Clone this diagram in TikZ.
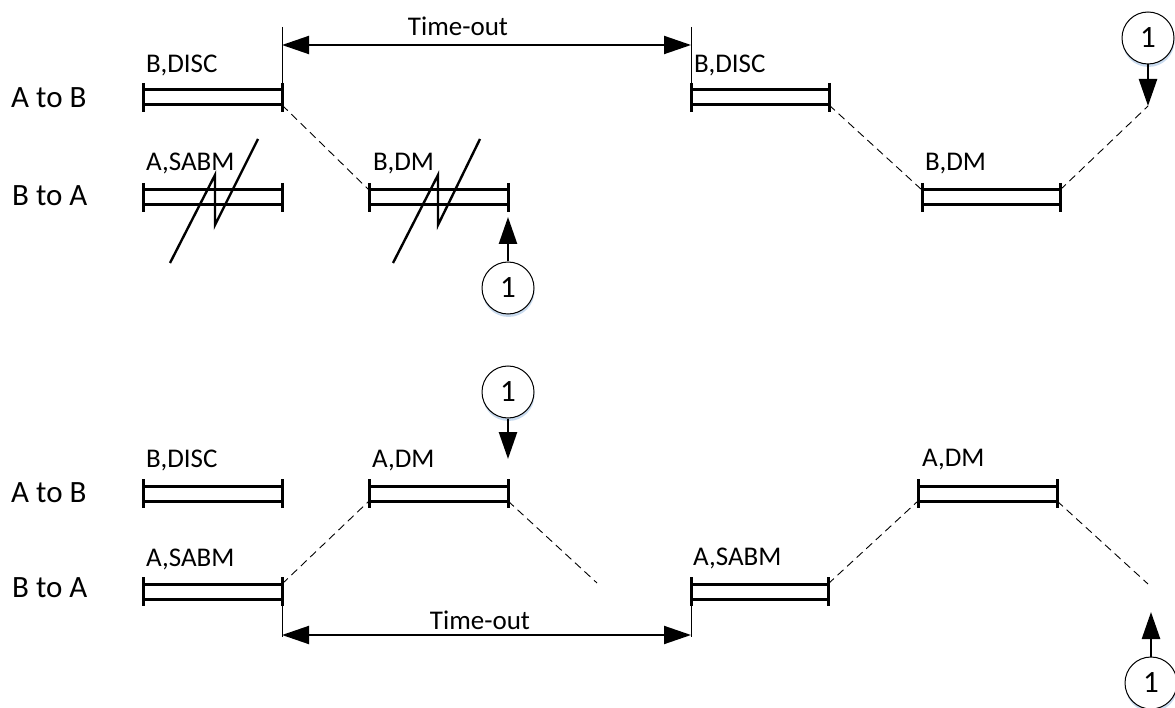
\documentclass[tikz,border=0pt]{standalone}
\usepackage{fontspec}
\setmainfont{Carlito}
\usetikzlibrary{arrows.meta,shadows}
\definecolor{shadowblue}{RGB}{200,218,238}
\tikzset{
  frameline/.style={line width=3pt},
  dashconn/.style={line width=0.9pt,dash pattern=on 8pt off 5pt},
  thinline/.style={line width=1pt},
  bolt/.style={line width=2.4pt,line join=miter},
  lab/.style={font=\fontsize{27}{32}\selectfont,inner sep=0pt,anchor=base west},
  rowlab/.style={font=\fontsize{31}{36}\selectfont,inner sep=0pt,anchor=base west},
  circ/.style={circle,draw,line width=1pt,fill=white,minimum size=52pt,inner sep=0pt,
    font=\fontsize{31}{36}\selectfont,
    drop shadow={shadow xshift=0.5pt,shadow yshift=-3pt,fill=shadowblue,opacity=1}},
  arr/.style={line width=2.5pt,-{Triangle[length=27pt,width=18pt]}},
  tarr/.style={line width=2pt,{Triangle[length=27pt,width=18pt]}-{Triangle[length=27pt,width=18pt]}}
}
\newcommand{\myframe}[4]{%
  \coordinate (#1-tl) at ({#2},{#4});
  \coordinate (#1-tr) at ({#3},{#4});
  \coordinate (#1-bl) at ({#2},{#4+15});
  \coordinate (#1-br) at ({#3},{#4+15});
  \draw[frameline] (#1-tl) -- (#1-tr) (#1-bl) -- (#1-br);
  \draw[frameline] ([yshift=7pt]#1-tl) -- ([yshift=-7pt]#1-bl);
  \draw[frameline] ([yshift=7pt]#1-tr) -- ([yshift=-7pt]#1-br);
}
\begin{document}
\begin{tikzpicture}[x=1pt,y=-1pt]
\useasboundingbox (0,0) rectangle (1175,708);

% ---------------- top section ----------------
\node[rowlab] (r1) at (11,108) {A to B};
\node[rowlab] (r2) at (12,206) {B to A};

\myframe{fa}{143}{282}{90}
\myframe{fb}{691}{829}{90}
\myframe{fc}{143}{282}{190}
\myframe{fd}{369}{508}{190}
\myframe{fe}{922}{1060}{190}

\node[lab] (la) at (146,73) {B,DISC};
\node[lab] (lb) at (694,73) {B,DISC};
\node[lab] (lc) at (146,171) {A,SABM};
\node[lab] (ld) at (373,171) {B,DM};
\node[lab] (le) at (925,171) {B,DM};

% lightning bolts
\draw[bolt] (170,263) -- (215,175) -- (215,225) -- (258,139);
\draw[bolt] (393,263) -- (438,175) -- (438,225) -- (480,139);

% time-out (top)
\coordinate (ta1) at (282,45);
\coordinate (ta2) at (691,45);
\draw[thinline] (282,27) -- ([yshift=7pt]fa-tr);
\draw[thinline] (691,27) -- ([yshift=7pt]fb-tl);
\draw[tarr] (ta1) -- (ta2);
\node[font=\fontsize{27}{32}\selectfont,inner sep=0pt,anchor=base] (tl1) at (458,36) {Time-out};

% dashed connectors
\coordinate (t1) at (1148,106);
\draw[dashconn] (fa-br) -- (fd-tl);
\draw[dashconn] (fb-br) -- (fe-tl);
\draw[dashconn] (fe-tr) -- (t1);

% circles
\node[circ] (c1) at (1148,38) {1};
\draw[arr] (c1.south) -- (t1);
\coordinate (t2) at (508,217);
\node[circ] (c2) at (508,288) {1};
\draw[arr] (c2.north) -- (t2);

% ---------------- bottom section ----------------
\node[rowlab] (r3) at (11,502) {A to B};
\node[rowlab] (r4) at (12,597) {B to A};

\myframe{ga}{143}{282}{486}
\myframe{gb}{369}{508}{486}
\myframe{gc}{918}{1057}{486}
\myframe{gd}{143}{282}{584}
\myframe{ge}{691}{828}{584}

\node[lab] (ma) at (146,467) {B,DISC};
\node[lab] (mb) at (372,467) {A,DM};
\node[lab] (mc) at (922,466) {A,DM};
\node[lab] (md) at (146,566) {A,SABM};
\node[lab] (me) at (693,565) {A,SABM};

% dashed connectors
\coordinate (e1) at (597,583);
\coordinate (e2) at (1148,584);
\draw[dashconn] (gd-tr) -- (gb-bl);
\draw[dashconn] (gb-br) -- (e1);
\draw[dashconn] (ge-tr) -- (gc-bl);
\draw[dashconn] (gc-br) -- (e2);

% time-out (bottom)
\coordinate (tb1) at (282,635);
\coordinate (tb2) at (691,635);
\draw[thinline] ([yshift=-7pt]gd-br) -- (282,637);
\draw[thinline] ([yshift=-7pt]ge-bl) -- (691,637);
\draw[tarr] (tb1) -- (tb2);
\node[font=\fontsize{27}{32}\selectfont,inner sep=0pt,anchor=base] (tl2) at (480,629) {Time-out};

% circles
\coordinate (t3) at (508,459);
\node[circ] (c3) at (508,392) {1};
\draw[arr] (c3.south) -- (t3);
\coordinate (t4) at (1151,612);
\node[circ] (c4) at (1151,683) {1};
\draw[arr] (c4.north) -- (t4);
\end{tikzpicture}
\end{document}
